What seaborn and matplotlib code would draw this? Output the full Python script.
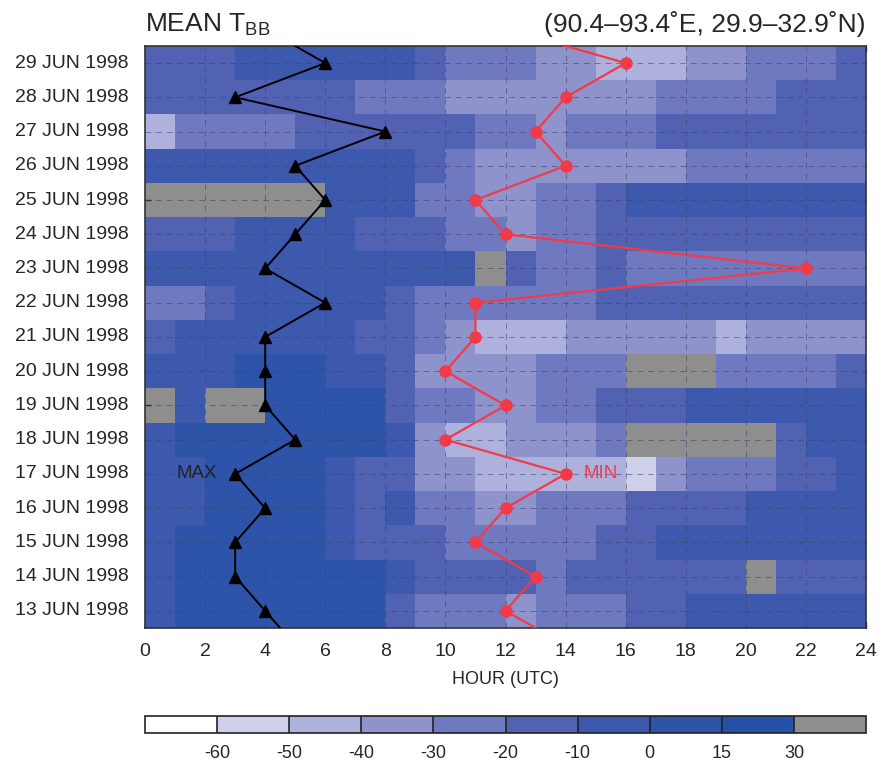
import numpy as np
import pandas as pd
import matplotlib
matplotlib.use("Agg")
import matplotlib.pyplot as plt
import seaborn as sns
from matplotlib.colors import ListedColormap, BoundaryNorm
import matplotlib as mpl

N = np.nan
dates = ["29 JUN 1998", "28 JUN 1998", "27 JUN 1998", "26 JUN 1998", "25 JUN 1998",
         "24 JUN 1998", "23 JUN 1998", "22 JUN 1998", "21 JUN 1998", "20 JUN 1998",
         "19 JUN 1998", "18 JUN 1998", "17 JUN 1998", "16 JUN 1998", "15 JUN 1998",
         "14 JUN 1998", "13 JUN 1998"]
hours = list(range(24))

# mean Tbb (deg C) per hour, NaN = no data
tbb_29 = [-15,-15,-15,-5,-5,-5,-5,-5,-5,-15,-25,-25,-25,-35,-35,-45,-45,-45,-35,-35,-25,-25,-25,-15]
tbb_28 = [-15,-15,-15,-15,-15,-15,-15,-25,-25,-25,-35,-35,-35,-35,-35,-35,-35,-25,-25,-25,-25,-15,-15,-15]
tbb_27 = [-45,-25,-25,-25,-25,-15,-15,-15,-15,-15,-15,-25,-25,-35,-25,-25,-25,-15,-15,-15,-15,-15,-15,-15]
tbb_26 = [-5,-5,-5,-5,-5,-5,-5,-5,-5,-15,-25,-35,-35,-35,-35,-35,-35,-35,-25,-25,-25,-25,-25,-25]
tbb_25 = [N,N,N,N,N,N,-5,-5,-5,-25,-25,-35,-35,-25,-25,-15,-5,-5,-5,-5,-5,-5,-5,-5]
tbb_24 = [-15,-15,-15,-5,-5,-5,-5,-15,-15,-15,-25,-25,-35,-25,-25,-15,-15,-15,-15,-15,-15,-15,-15,-15]
tbb_23 = [-5,-5,-5,-5,-5,-5,-5,-5,-5,-5,-5,N,-15,-25,-25,-15,-25,-25,-25,-25,-25,-25,-25,-25]
tbb_22 = [-25,-25,-15,-5,-5,-5,-5,-5,-15,-25,-25,-25,-25,-25,-25,-15,-15,-15,-15,-15,-15,-15,-15,-15]
tbb_21 = [-15,-5,-5,-5,-5,-5,-5,-15,-15,-25,-35,-45,-45,-45,-35,-35,-35,-35,-35,-45,-35,-35,-35,-35]
tbb_20 = [-5,-5,-5,7,7,7,-5,-5,-15,-35,-35,-35,-35,-25,-25,-25,N,N,N,-25,-25,-25,-25,-15]
tbb_19 = [N,-5,N,N,7,7,7,7,-15,-25,-25,-35,-35,-25,-25,-15,-15,-15,-5,-5,-5,-5,-5,-5]
tbb_18 = [-5,7,7,7,7,7,7,7,-5,-35,-45,-45,-35,-35,-35,-25,N,N,N,N,N,-15,-5,-5]
tbb_17 = [-5,-5,7,7,7,7,-5,-15,-15,-35,-35,-45,-45,-45,-45,-45,-55,-35,-25,-25,-25,-15,-15,-5]
tbb_16 = [-5,-5,7,7,7,7,-5,-15,-5,-25,-25,-35,-35,-25,-25,-25,-15,-15,-15,-15,-5,-5,-5,-5]
tbb_15 = [-5,7,7,7,7,7,-5,-15,-15,-15,-25,-25,-25,-25,-25,-15,-15,-5,-5,-5,-5,-5,-5,-5]
tbb_14 = [-5,7,7,7,7,7,7,7,-5,-15,-15,-15,-15,-25,-15,-15,-15,-15,-15,-15,N,-15,-15,-15]
tbb_13 = [-5,7,7,7,7,7,7,7,-15,-25,-25,-25,-35,-25,-25,-25,-15,-15,-5,-5,-5,-5,-5,-5]

# hour of daily max / min Tbb, from 30 JUN (off-chart) down to 12 JUN (off-chart)
line_days = [-1] + list(range(17)) + [17]
max_hour = [4, 6, 3, 8, 5, 6, 5, 4, 6, 4, 4, 4, 5, 3, 4, 3, 3, 4, 5]
min_hour = [12, 16, 14, 13, 14, 11, 12, 22, 11, 11, 10, 12, 10, 14, 12, 11, 13, 12, 14]

levels = [-70, -60, -50, -40, -30, -20, -10, 0, 15, 30, 45]
level_labels = ["-60", "-50", "-40", "-30", "-20", "-10", "0", "15", "30"]
colors = ["#ffffff", "#cfd0ea", "#aeb1dc", "#8f93cc", "#6e79bf", "#5262b2",
          "#3d59ad", "#2d54a9", "#2552a6", "#8e8e8e"]

grid = pd.DataFrame([tbb_29, tbb_28, tbb_27, tbb_26, tbb_25, tbb_24, tbb_23, tbb_22,
                     tbb_21, tbb_20, tbb_19, tbb_18, tbb_17, tbb_16, tbb_15, tbb_14, tbb_13],
                    index=dates, columns=hours)

sns.set_style("white")
plt.rcParams["font.family"] = ["Liberation Sans", "DejaVu Sans"]

cmap = ListedColormap(colors)
norm = BoundaryNorm(levels, cmap.N)

fig = plt.figure(figsize=(8.8, 7.61), dpi=100)
ax = fig.add_axes([0.1648, 0.1748, 0.8193, 0.7648])
ax.set_facecolor(colors[-1])
sns.heatmap(grid, cmap=cmap, norm=norm, cbar=False, ax=ax)

for x in range(2, 24, 2):
    ax.axvline(x, color="#3a3f6a", lw=0.7, ls=(0, (6, 5)), alpha=0.55, zorder=2)
for i in range(17):
    ax.axhline(i + 0.5, color="#3a3f6a", lw=0.7, ls=(0, (6, 5)), alpha=0.55, zorder=2)

yy = [d + 0.5 for d in line_days]
ax.plot(max_hour, yy, color="black", lw=1.4, marker="^", ms=9, zorder=5, clip_on=True)
ax.plot(min_hour, yy, color="#f23a48", lw=1.6, marker="o", ms=8, zorder=5, clip_on=True)
ax.text(1.05, 12.5, "MAX", color="#222222", fontsize=13.5, va="center", ha="left", zorder=6)
ax.text(14.6, 12.5, "MIN", color="#f23a48", fontsize=13.5, va="center", ha="left", zorder=6)

ax.set_xlim(0, 24)
ax.set_ylim(17, 0)
ax.set_xticks(range(0, 25, 2))
ax.set_xticklabels([str(h) for h in range(0, 25, 2)], rotation=0, fontsize=14)
ax.set_yticks([i + 0.5 for i in range(17)])
ax.set_yticklabels(dates, rotation=0, fontsize=14)
ax.tick_params(axis="both", direction="in", length=4, width=1, color="#222222",
               top=True, right=True, bottom=True, left=True)
ax.tick_params(axis="y", pad=12)
ax.tick_params(axis="x", pad=11)
ax.set_xlabel("HOUR (UTC)", fontsize=13, labelpad=8)
ax.set_ylabel("")
for s in ax.spines.values():
    s.set_visible(True)
    s.set_color("#333333")
    s.set_linewidth(1.2)

fig.text(0.1648, 0.968, r"MEAN T$_{\mathregular{BB}}$", fontsize=19, ha="left", va="center")
fig.text(0.984, 0.968, "(90.4\u201393.4\u02daE, 29.9\u201332.9\u02daN)", fontsize=19,
         ha="right", va="center")

cax = fig.add_axes([0.1648, 0.0368, 0.8193, 0.0223])
cb = mpl.colorbar.ColorbarBase(cax, cmap=cmap, norm=norm, boundaries=levels,
                               spacing="uniform", orientation="horizontal",
                               drawedges=True, ticks=levels[1:-1])
cb.set_ticklabels(level_labels)
cb.minorticks_off()
cb.outline.set_color("#222222")
cb.outline.set_linewidth(1.2)
cb.dividers.set_color("#222222")
cb.dividers.set_linewidth(1.2)
cax.tick_params(which="both", length=0, labelsize=13, pad=9)

fig.savefig("out.png", dpi=100)
